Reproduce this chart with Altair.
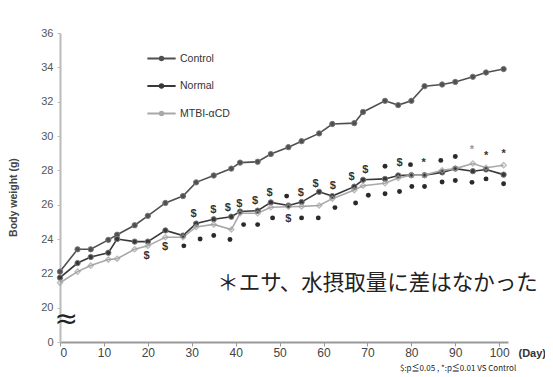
import altair as alt
import pandas as pd

days = [0, 4, 7, 11, 13, 17, 20, 24, 28, 31, 35, 39, 41, 45, 48, 52, 55, 59, 62, 67,
        69, 74, 77, 80, 83, 87, 90, 94, 97, 101]
control = [22.1, 23.4, 23.4, 23.95, 24.25, 24.8, 25.35, 26.1, 26.5, 27.3, 27.7, 28.1,
           28.45, 28.5, 28.95, 29.35, 29.7, 30.15, 30.7, 30.75, 31.4, 32.05, 31.8, 32.05,
           32.9, 33.0, 33.15, 33.45, 33.7, 33.9]
normal = [21.75, 22.6, 22.95, 23.2, 24.0, 23.85, 23.85, 24.5, 24.2, 24.9, 25.15, 25.3,
          25.6, 25.65, 26.13, 25.95, 26.15, 26.75, 26.5, 27.05, 27.45, 27.5, 27.7, 27.72,
          27.72, 27.88, 28.1, 27.95, 28.05, 27.75]
mtbi = [21.45, 22.1, 22.45, 22.8, 22.85, 23.4, 23.6, 24.1, 24.1, 24.7, 24.85, 24.55,
        25.5, 25.5, 25.85, 25.88, 25.9, 25.95, 26.35, 26.85, 27.1, 27.25, 27.55, 27.72,
        27.72, 28.0, 28.1, 28.4, 28.15, 28.3]
groups = ["Control", "Normal", "MTBI-αCD"]
group_colors = ["#505050", "#383838", "#a8a8a8"]

# significance marks: day, value, symbol, tone
sig_day = [30.4, 34.9, 38.2, 40.8, 44.4, 47.7, 51.6, 54.8, 58.2, 62.1, 66.4, 69.5, 74,
           77.3, 79.8, 82.8, 86.7, 90, 93.8, 97, 101,
           19.7, 23.9, 28.2, 31.9, 35, 38.7, 41.8, 45, 48.4, 52, 55, 58.8, 62.6, 67.3,
           70.2, 74, 77.3, 80.1, 83, 87, 90, 93.8, 97, 101]
sig_val = [25.48, 25.71, 25.8, 26.06, 26.23, 26.7, 26.5, 26.7, 27.22, 27.1, 27.6, 28.03,
           28.24, 28.41, 28.33, 28.42, 28.58, 28.81, 29.2, 28.81, 28.97,
           23.0, 23.54, 23.6, 24.0, 24.2, 23.97, 24.84, 24.84, 25.23, 25.16, 25.23, 25.23,
           25.83, 26.1, 26.55, 26.64, 26.77, 27.06, 27.06, 27.32, 27.41, 27.3, 27.5, 27.22]
sig_sym = ["$", "$", "$", "$", "$", "$", "dot", "$", "$", "$", "$", "$", "dot", "$",
           "dot", "*", "dot", "dot", "*", "*", "*",
           "$", "$", "dot", "dot", "dot", "dot", "dot", "dot", "dot", "$", "dot", "dot",
           "dot", "dot", "dot", "dot", "dot", "dot", "dot", "dot", "dot", "dot", "dot",
           "dot"]
sig_tone = ["dark"] * 18 + ["light"] + ["dark"] * 26

y_ticks = [18, 20, 22, 24, 26, 28, 30, 32, 34, 36]
x_ticks = [0, 10, 20, 30, 40, 50, 60, 70, 80, 90, 100]

note_text = ["＊エサ、水摂取量に差はなかった", "$:p≦0.05 , *:p≦0.01  VS  Control"]
note_day = [35.8, 77.4]
note_val = [21.35, 16.45]
note_size = [21.5, 8]

rows = []
for g, vals in zip(groups, [control, normal, mtbi]):
    for d, v in zip(days, vals):
        rows.append({"day": d, "weight": v, "group": g})
df = pd.DataFrame(rows)
sig = pd.DataFrame({"day": sig_day, "weight": sig_val, "sym": sig_sym, "tone": sig_tone})
notes = pd.DataFrame({"day": note_day, "weight": note_val, "text": note_text,
                      "size": note_size})
brk = pd.DataFrame({"day": [1.4], "weight": [19.3], "text": ["≈"]})

xs = alt.Scale(domain=[0, 102], nice=False, zero=False)
ys = alt.Scale(domain=[18, 36], nice=False, zero=False)
cs = alt.Scale(domain=groups, range=group_colors)

X = alt.X("day:Q", scale=xs, axis=alt.Axis(
    values=x_ticks, title="(Day)", grid=False, titleX=458, titleY=11,
    titleAlign="left", titleBaseline="middle", titleFontSize=11, titleFontWeight="bold",
    titleColor="#333", labelFontSize=12, labelColor="#444", labelPadding=1,
    labelOverlap=False,
    domainColor="#999", domainWidth=2, tickColor="#999", tickSize=4,
    labelFont="Liberation Sans", titleFont="Liberation Sans"))
Y = alt.Y("weight:Q", scale=ys, axis=alt.Axis(
    values=y_ticks, title="Body weight (g)", grid=False,
    labelExpr="datum.value == 18 ? '0' : datum.label", labelOverlap=False,
    titleX=-42, titleY=164, titleFontSize=10.5, titleFontWeight="bold", titleColor="#444",
    labelFontSize=11, labelColor="#555", labelPadding=4,
    domainColor="#bbb", domainWidth=2, tickColor="#bbb", tickSize=3,
    labelFont="Liberation Sans", titleFont="Liberation Sans"))

legend = alt.Legend(
    title=None, orient="none", legendX=86, legendY=10,
    symbolType="M-1,0H1M-0.12,0A0.12,0.12 0 1,0 0.12,0A0.12,0.12 0 1,0 -0.12,0Z",
    symbolSize=800, symbolStrokeWidth=2, rowPadding=5.5, labelOffset=3,
    labelFontSize=10.5, labelColor="#333", labelFont="Liberation Sans")

base = alt.Chart(df).encode(x=X, y=Y)

lines = base.mark_line(strokeWidth=1.6).encode(
    color=alt.Color("group:N", scale=cs, legend=legend, sort=groups))

pts_dark = base.transform_filter(alt.datum.group != "MTBI-αCD").mark_point(
    filled=True, size=28, opacity=1, strokeWidth=1).encode(
    color=alt.Color("group:N", scale=cs, legend=None),
    stroke=alt.value("#777"))
pts_light = base.transform_filter(alt.datum.group == "MTBI-αCD").mark_point(
    shape="diamond", filled=False, size=28, strokeWidth=1.3, color="#a0a0a0")

sig_text = alt.Chart(sig).transform_filter(alt.datum.sym != "dot").mark_text(
    fontWeight="bold", fontSize=11, baseline="middle", font="Liberation Sans").encode(
    x=X, y=Y, text="sym:N",
    color=alt.Color("tone:N", scale=alt.Scale(domain=["dark", "light"],
                                                range=["#333", "#999"]), legend=None))
sig_dot = alt.Chart(sig).transform_filter(alt.datum.sym == "dot").mark_circle(
    size=24, color="#2a2a2a", opacity=1).encode(x=X, y=Y)

note_layer = alt.Chart(notes).mark_text(align="left", baseline="middle",
                                        font="Noto Sans CJK JP", color="#222").encode(
    x=X, y=Y, text="text:N", size=alt.Size("size:Q", scale=None, legend=None))

brk_layer = alt.Chart(brk).mark_text(fontSize=28, color="#222",
                                     baseline="middle", font="DejaVu Sans").encode(
    x=X, y=Y, text="text:N")

chart = alt.layer(lines, pts_dark, pts_light, sig_dot, sig_text, note_layer, brk_layer).properties(
    width=448, height=309,
    autosize=alt.AutoSizeParams(type="none"),
    padding={"left": 52, "top": 25, "right": 37, "bottom": 35},
).configure_view(stroke=None).resolve_scale(color="independent")

chart.save("out.html", embed_options={"renderer": "svg", "actions": False})
